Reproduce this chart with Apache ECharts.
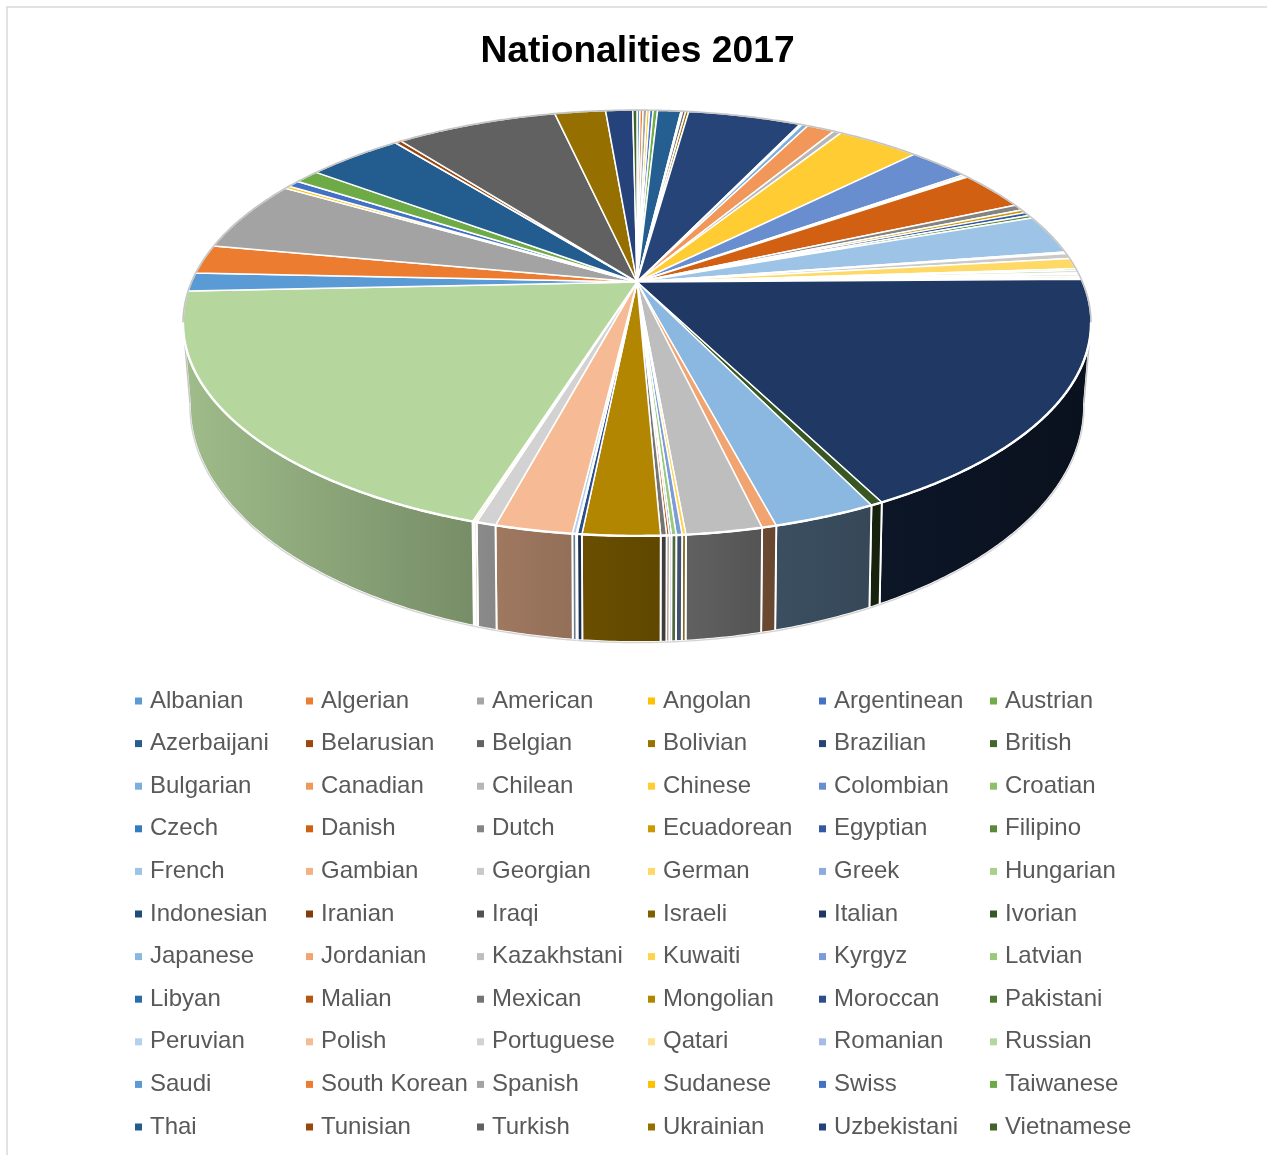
<!DOCTYPE html>
<html>
<head>
<meta charset="utf-8">
<title>Nationalities 2017</title>
<style>html,body{margin:0;padding:0;background:#fff}#chart{width:1267px;height:1155px}</style>
<script src="https://cdn.jsdelivr.net/npm/echarts@6/dist/echarts.min.js"></script>
</head>
<body>
<div id="chart"></div>
<script>
const chartTitle = 'Nationalities 2017';

const nationalities = [
  'Albanian','Algerian','American','Angolan','Argentinean','Austrian',
  'Azerbaijani','Belarusian','Belgian','Bolivian','Brazilian','British',
  'Bulgarian','Canadian','Chilean','Chinese','Colombian','Croatian',
  'Czech','Danish','Dutch','Ecuadorean','Egyptian','Filipino',
  'French','Gambian','Georgian','German','Greek','Hungarian',
  'Indonesian','Iranian','Iraqi','Israeli','Italian','Ivorian',
  'Japanese','Jordanian','Kazakhstani','Kuwaiti','Kyrgyz','Latvian',
  'Libyan','Malian','Mexican','Mongolian','Moroccan','Pakistani',
  'Peruvian','Polish','Portuguese','Qatari','Romanian','Russian',
  'Saudi','South Korean','Spanish','Sudanese','Swiss','Taiwanese',
  'Thai','Tunisian','Turkish','Ukrainian','Uzbekistani','Vietnamese'
];

// Share of each nationality, in percent
const shares = [
  0.13,0.13,0.16,0.12,0.15,0.19,
  1.00,0.07,0.13,0.13,4.86,0.09,
  0.26,1.19,0.33,3.56,2.64,0.14,
  0.11,3.00,0.47,0.25,0.28,0.22,
  3.00,0.11,0.42,0.83,0.14,0.17,
  0.13,0.13,0.13,0.13,17.69,0.36,
  3.07,0.43,2.25,0.11,0.17,0.14,
  0.06,0.08,0.17,2.28,0.14,0.03,
  0.11,2.29,0.58,0.07,0.06,19.44,
  1.40,2.21,5.44,0.22,0.53,1.06,
  4.11,0.28,6.93,2.18,1.16,0.18
];

const sliceColors = [
  '#5B9BD5','#ED7D31','#A5A5A5','#FFC000','#4472C4','#70AD47',
  '#255E91','#9E480E','#636363','#997300','#264478','#43682B',
  '#7CAFDD','#F1975A','#B7B7B7','#FFCD33','#698ED0','#8CC168',
  '#327DC2','#D26012','#848484','#CC9A00','#335AA1','#5A8A39',
  '#9DC3E6','#F4B183','#C9C9C9','#FFD966','#8FAADC','#A9D18E',
  '#1F4E79','#843C0C','#525252','#7F6000','#203864','#385723',
  '#8AB8E1','#F2A470','#BEBEBE','#FFD34D','#7B9CD6','#9BC97B',
  '#2A6DAA','#B75410','#747474','#B28600','#2C4F8C','#4E7932',
  '#B3D0EC','#F6BA94','#D2D2D2','#FFE28F','#A5BCE5','#B5D69D',
  '#5A9AD5','#EC7C30','#A3A3A3','#FDBF00','#4372C4','#6EAB46',
  '#235C8F','#9A460D','#616161','#957000','#25427A','#416429'
];

const total = shares.reduce((a, b) => a + b, 0);

// A disc in perspective: apex is where the unit circle's centre lands on screen
const topDisc = { ax: 637, ay: 282, cx: 445.5, by: 205, k: 0.1925 };
const baseDisc = { ax: 637, ay: 358.8, cx: 438, by: 226.6, k: 0.2 };

// Angles at which the pie's outline turns from its back half to its front wall
const frontFrom = 101, frontTo = 259;

function rimPoint(disc, deg) {
  const t = deg * Math.PI / 180;
  const w = 1 + disc.k * Math.cos(t);
  return [disc.ax + disc.cx * Math.sin(t) / w, disc.ay - disc.by * Math.cos(t) / w];
}

function rimArc(disc, from, to) {
  const n = Math.max(1, Math.ceil(Math.abs(to - from) / 0.5));
  const pts = [];
  for (let i = 0; i <= n; i++) pts.push(rimPoint(disc, from + (to - from) * i / n));
  return pts;
}

// Wall brightness falls off from left to right across the front of the pie
const wallLight = [[183, .88], [470, .66], [620, .57], [720, .48], [776, .43], [875, .39], [1092, .30]];

function lightAt(x) {
  for (let i = 1; i < wallLight.length; i++) {
    if (x <= wallLight[i][0]) {
      const [x0, l0] = wallLight[i - 1], [x1, l1] = wallLight[i];
      return l0 + (l1 - l0) * Math.max(0, x - x0) / (x1 - x0);
    }
  }
  return wallLight[wallLight.length - 1][1];
}

function shaded(color, f) {
  const n = parseInt(color.slice(1), 16);
  const c = [n >> 16 & 255, n >> 8 & 255, n & 255].map(v => Math.round(v * f));
  return 'rgb(' + c.join(',') + ')';
}

function renderSlice(params, api) {
  const start = api.value(0) / total * 360;
  const end = api.value(1) / total * 360;
  const color = api.visual('color');
  const children = [];

  const rim = rimArc(topDisc, start, end);
  children.push({
    type: 'polygon', z2: 4,
    shape: { points: [[topDisc.ax, topDisc.ay]].concat(rim) },
    style: { fill: color, stroke: '#fff', lineWidth: 1.5, lineJoin: 'round' }
  });

  // Pale edge along the back of the disc
  if (start < frontFrom) {
    children.push({ type: 'polyline', z2: 5, shape: { points: rimArc(topDisc, start, Math.min(end, frontFrom)) },
      style: { fill: 'none', stroke: '#c4c4c4', lineWidth: 1.6 } });
  }
  if (end > frontTo) {
    children.push({ type: 'polyline', z2: 5, shape: { points: rimArc(topDisc, Math.max(start, frontTo), end) },
      style: { fill: 'none', stroke: '#c4c4c4', lineWidth: 1.6 } });
  }

  const a = Math.max(start, frontFrom), b = Math.min(end, frontTo);
  if (b > a) {
    const topArc = rimArc(topDisc, a, b);
    const baseArc = rimArc(baseDisc, a, b);
    const xs = topArc.concat(baseArc).map(p => p[0]);
    const x0 = Math.min.apply(null, xs), x1 = Math.max.apply(null, xs);
    children.push({
      type: 'polygon', z2: 2,
      shape: { points: topArc.concat(baseArc.slice().reverse()) },
      style: {
        fill: new echarts.graphic.LinearGradient(x0, 0, Math.max(x1, x0 + 1), 0, [
          { offset: 0, color: shaded(color, lightAt(x0)) },
          { offset: 1, color: shaded(color, lightAt(x1)) }
        ], true),
        stroke: '#fff', lineWidth: 1.9, lineJoin: 'round'
      }
    });
    children.push({ type: 'polyline', z2: 3, shape: { points: baseArc.map(p => [p[0], p[1] + 0.5]) },
      style: { fill: 'none', stroke: '#d4d4d4', lineWidth: 1.4 } });
    children.push({ type: 'polyline', z2: 5, shape: { points: topArc },
      style: { fill: 'none', stroke: '#fff', lineWidth: 2.4 } });
    // Silhouette of the wall where the disc turns away from view
    [frontFrom, frontTo].forEach(deg => {
      if (start <= deg && deg <= end) {
        children.push({ type: 'polyline', z2: 3,
          shape: { points: [rimPoint(topDisc, deg), rimPoint(baseDisc, deg)] },
          style: { fill: 'none', stroke: '#c4c4c4', lineWidth: 1.4 } });
      }
    });
  }
  return { type: 'group', children };
}

let running = 0;
const series = nationalities.map((name, i) => {
  const from = running;
  running += shares[i];
  return {
    type: 'custom',
    name,
    coordinateSystem: 'none',
    renderItem: renderSlice,
    itemStyle: { color: sliceColors[i] },
    silent: true,
    data: [[from, running]]
  };
});

const columnCount = 6;
const legends = [];
for (let c = 0; c < columnCount; c++) {
  legends.push({
    orient: 'vertical',
    left: 135 + c * 171,
    top: 689,
    padding: 0,
    itemGap: 18.6,
    itemWidth: 7,
    itemHeight: 7,
    icon: 'rect',
    selectedMode: false,
    textStyle: { fontFamily: 'Liberation Sans', fontSize: 24, lineHeight: 24, color: '#595959', padding: [0, 0, 0, 3] },
    data: nationalities.filter((_, i) => i % columnCount === c)
  });
}

const chart = echarts.init(document.getElementById('chart'), null, { renderer: 'canvas' });
chart.setOption({
  animation: false,
  backgroundColor: '#fff',
  title: {
    text: chartTitle,
    left: 637.5,
    top: 33,
    textAlign: 'center',
    padding: 0,
    textStyle: { fontFamily: 'Liberation Sans', fontSize: 37.2, fontWeight: 'bold', color: '#000' }
  },
  graphic: [{
    type: 'rect',
    silent: true,
    shape: { x: 7, y: 7, width: 1400, height: 1400 },
    style: { fill: 'none', stroke: '#d9d9d9', lineWidth: 1.5 }
  }],
  legend: legends,
  series
});
</script>
</body>
</html>
